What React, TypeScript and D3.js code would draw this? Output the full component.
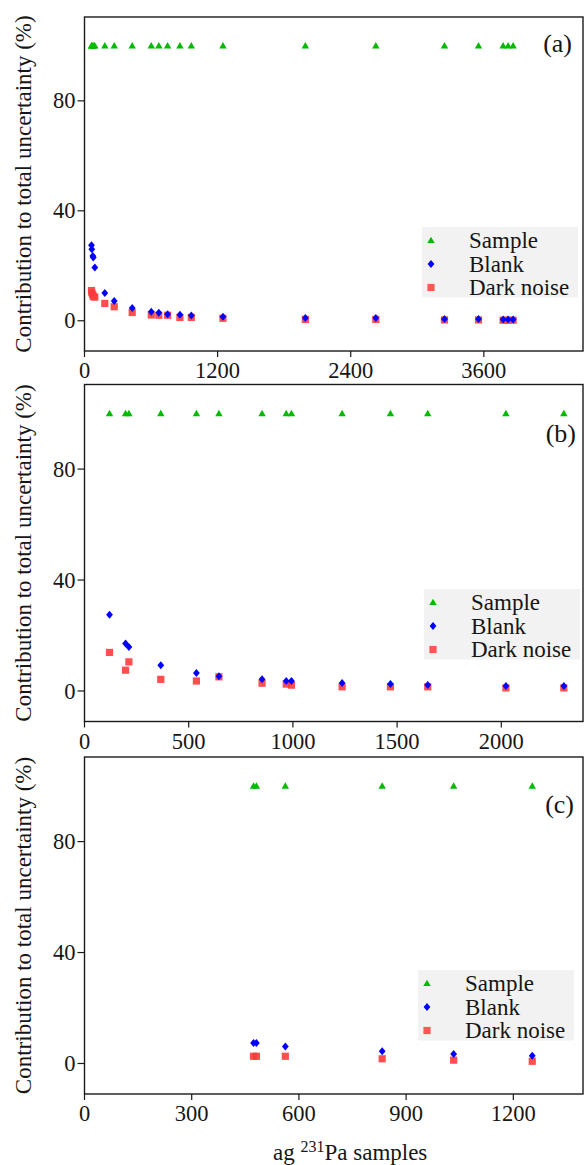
import React from "react";
import * as d3 from "d3";

// ---------- data ----------
// Panel (a)
const aX = [63, 66, 75, 79, 93, 183, 268, 430, 602, 670, 749, 860, 963, 1248, 1991, 2626, 3245, 3552, 3774, 3819, 3864];
const aSample = [100, 100, 100, 100, 100, 100, 100, 100, 100, 100, 100, 100, 100, 100, 100, 100, 100, 100, 100, 100, 100];
const aBlank = [27.5, 26.0, 23.6, 23.0, 19.4, 10.1, 7.2, 4.6, 3.3, 2.9, 2.4, 2.2, 1.9, 1.5, 1.0, 1.0, 0.6, 0.6, 0.5, 0.5, 0.5];
const aDark = [11.0, 10.2, 9.5, 8.8, 8.6, 6.3, 5.1, 3.0, 2.1, 2.0, 2.0, 1.2, 1.2, 0.9, 0.5, 0.5, 0.3, 0.3, 0.2, 0.2, 0.2];

// Panel (b)
const bX = [120, 197, 213, 366, 537, 645, 852, 968, 993, 1236, 1468, 1647, 2022, 2300];
const bSample = [100, 100, 100, 100, 100, 100, 100, 100, 100, 100, 100, 100, 100, 100];
const bBlank = [27.5, 17.1, 15.9, 9.3, 6.5, 5.3, 4.2, 3.6, 3.6, 2.9, 2.5, 2.2, 1.8, 1.8];
const bDark = [13.9, 7.5, 10.5, 4.2, 3.6, 5.1, 2.8, 2.5, 2.1, 1.5, 1.5, 1.5, 1.1, 1.1];

// Panel (c)
const cX = [473, 481, 562, 833, 1033, 1253];
const cSample = [100, 100, 100, 100, 100, 100];
const cBlank = [7.4, 7.4, 6.1, 4.4, 3.4, 2.8];
const cDark = [2.6, 2.6, 2.6, 1.7, 1.2, 0.8];

const xTicksA = [0, 1200, 2400, 3600];
const xTicksB = [0, 500, 1000, 1500, 2000];
const xTicksC = [0, 300, 600, 900, 1200];
const yTicks = [0, 40, 80];

const seriesNames = ["Sample", "Blank", "Dark noise"];
const panelLabels = ["(a)", "(b)", "(c)"];
const yTitle = "Contribution to total uncertainty (%)";

// ---------- layout / style ----------
const W = 584;
const H = 1165;
const LEFT = 84.5;
const RIGHT = 583;
const FONT = "'Liberation Serif', 'Times New Roman', serif";
const TXT = "#161616";
const GREEN = "#00bb00";
const BLUE = "#0000ff";
const RED = "#ff3b3b";

const panels = [
  { x: aX, s: aSample, b: aBlank, d: aDark, ticks: xTicksA, xmax: 4494, top: 17, bottom: 351, labelY: 52, labelX: 572, legTop: 227, legLeft: 422 },
  { x: bX, s: bSample, b: bBlank, d: bDark, ticks: xTicksB, xmax: 2392, top: 384.5, bottom: 721.5, labelY: 442, labelX: 576, legTop: 589, legLeft: 424 },
  { x: cX, s: cSample, b: cBlank, d: cDark, ticks: xTicksC, xmax: 1395, top: 757, bottom: 1094, labelY: 813, labelX: 574, legTop: 970, legLeft: 418 },
];

const triPath = "M0,-3.8L3.7,2.6L-3.7,2.6Z";
const diaPath = "M0,-4L3.4,0L0,4L-3.4,0Z";
const sqPath = "M-3.6,-3.6L3.6,-3.6L3.6,3.6L-3.6,3.6Z";

function Panel({ p, idx }: { p: any; idx: number }) {
  const x = d3.scaleLinear().domain([0, p.xmax]).range([LEFT, RIGHT]);
  const y = d3.scaleLinear().domain([-11, 110.5]).range([p.bottom, p.top]);
  return (
    <g>
      {/* markers */}
      {p.x.map((v: number, i: number) => (
        <path key={"s" + i} d={triPath} transform={`translate(${x(v)},${y(p.s[i])})`} fill={GREEN} />
      ))}
      {p.x.map((v: number, i: number) => (
        <path key={"d" + i} d={sqPath} transform={`translate(${x(v)},${y(p.d[i])})`} fill={RED} fillOpacity={0.9} />
      ))}
      {p.x.map((v: number, i: number) => (
        <path key={"b" + i} d={diaPath} transform={`translate(${x(v)},${y(p.b[i])})`} fill={BLUE} />
      ))}
      {/* frame */}
      <rect x={LEFT} y={p.top} width={RIGHT - LEFT} height={p.bottom - p.top} fill="none" stroke="#1a1a1a" strokeWidth={1.4} />
      {/* y ticks */}
      {yTicks.map((t) => (
        <g key={"yt" + t}>
          <line x1={LEFT - 7} x2={LEFT} y1={y(t)} y2={y(t)} stroke="#1a1a1a" strokeWidth={1.2} />
          <text x={LEFT - 9} y={y(t)} dy="0.34em" textAnchor="end" fontSize={22.5} fontFamily={FONT} fill={TXT}>{t}</text>
        </g>
      ))}
      {/* x ticks */}
      {p.ticks.map((t: number) => (
        <g key={"xt" + t}>
          <line x1={x(t)} x2={x(t)} y1={p.bottom} y2={p.bottom + 6} stroke="#1a1a1a" strokeWidth={1.2} />
          <text x={x(t)} y={p.bottom + 27} textAnchor="middle" fontSize={22.5} fontFamily={FONT} fill={TXT}>{t}</text>
        </g>
      ))}
      {/* y title */}
      <text
        transform={`translate(31,${(p.top + p.bottom) / 2}) rotate(-90)`}
        textAnchor="middle"
        fontSize={23}
        fontFamily={FONT}
        fill={TXT}
      >
        {yTitle}
      </text>
      {/* panel label */}
      <text x={p.labelX} y={p.labelY} textAnchor="end" fontSize={26} fontFamily={FONT} fill={TXT}>{panelLabels[idx]}</text>
      {/* legend */}
      <g transform={`translate(${p.legLeft},${p.legTop})`}>
        <rect x={0} y={0} width={156} height={70.5} fill="#f2f2f2" />
        {seriesNames.map((name, i) => {
          const cy = 13.5 + i * 23.5;
          const path = i === 0 ? triPath : i === 1 ? diaPath : sqPath;
          const col = i === 0 ? GREEN : i === 1 ? BLUE : RED;
          return (
            <g key={name}>
              <path d={path} transform={`translate(9,${cy})`} fill={col} fillOpacity={i === 2 ? 0.85 : 1} />
              <text x={47} y={cy + 7.8} fontSize={23} fontFamily={FONT} fill={TXT}>{name}</text>
            </g>
          );
        })}
      </g>
    </g>
  );
}

export default function App() {
  return (
    <svg
      width={W}
      height={H}
      viewBox={`0 0 ${W} ${H}`}
      style={{ position: "absolute", left: 0, top: 0, background: "#fff" }}
    >
      <rect x={0} y={0} width={W} height={H} fill="#fff" />
      {panels.map((p, i) => (
        <Panel key={i} p={p} idx={i} />
      ))}
      <text x={273} y={1160} fontSize={23} fontFamily={FONT} fill={TXT}>
        ag{" "}
        <tspan fontSize={16} dy={-8}>231</tspan>
        <tspan dy={8}>Pa samples</tspan>
      </text>
    </svg>
  );
}
